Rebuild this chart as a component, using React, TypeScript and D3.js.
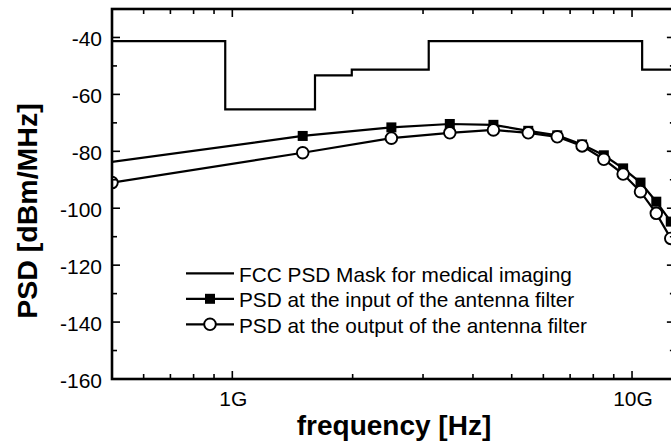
import React from "react";
import * as d3 from "d3";

// FCC indoor UWB mask for medical imaging (GHz breakpoints, dBm/MHz)
const maskFreqs = [0.5, 0.96, 0.96, 1.61, 1.61, 1.99, 1.99, 3.1, 3.1, 10.6, 10.6, 12.8];
const maskVals = [-41.3, -41.3, -65.3, -65.3, -53.3, -53.3, -51.3, -51.3, -41.3, -41.3, -51.3, -51.3];

// PSD at the filter input (filled squares)
const inputFreqs = [0.45, 1.5, 2.5, 3.5, 4.5, 5.5, 6.5, 7.5, 8.5, 9.5, 10.5, 11.5, 12.5];
const inputVals = [-84.6, -74.6, -71.6, -70.4, -70.7, -72.8, -74.4, -77.6, -81.4, -86.0, -91.0, -97.7, -104.7];

// PSD at the filter output (open circles)
const outputFreqs = [0.5, 1.5, 2.5, 3.5, 4.5, 5.5, 6.5, 7.5, 8.5, 9.5, 10.5, 11.5, 12.5];
const outputVals = [-91.0, -80.5, -75.4, -73.5, -72.5, -73.5, -74.9, -78.1, -82.8, -88.0, -94.2, -101.8, -110.6];

const yMajorTicks = [-160, -140, -120, -100, -80, -60, -40];
const yMinorTicks = [-150, -130, -110, -90, -70, -50];
const xMajorTicks = [1, 10];
const xMajorLabels = ["1G", "10G"];
const xMinorTicks = [0.6, 0.7, 0.8, 0.9, 2, 3, 4, 5, 6, 7, 8, 9];

const legendLabels = [
  "FCC PSD Mask for medical imaging",
  "PSD at the input of the antenna filter",
  "PSD at the output of the antenna filter",
];

const W = 671;
const H = 447;
const left = 112;
const top = 9;
const bottom = 379;

const x = d3.scaleLog().domain([0.5, 12.8]).range([left, 232 + 400 * Math.log10(12.8)]);
const y = d3.scaleLinear().domain([-160, -30]).range([bottom, top]);
const right = x.range()[1];

const font = "'Liberation Sans', Arial, Helvetica, sans-serif";

export default function App() {
  const line = d3
    .line<[number, number]>()
    .x((d) => x(d[0]))
    .y((d) => y(d[1]));

  const maskPts = maskFreqs.map((f, i) => [f, maskVals[i]] as [number, number]);
  const inPts = inputFreqs.map((f, i) => [f, inputVals[i]] as [number, number]);
  const outPts = outputFreqs.map((f, i) => [f, outputVals[i]] as [number, number]);

  const major = 8;
  const minor = 5;
  const r = 5.8;

  return (
    <svg
      width={W}
      height={H}
      style={{ position: "absolute", left: 0, top: 0, background: "#fff" }}
      fontFamily={font}
    >
      <defs>
        <clipPath id="plot">
          <rect x={left} y={top} width={right - left} height={bottom - top} />
        </clipPath>
      </defs>

      <g clipPath="url(#plot)">
        <path d={line(maskPts) || ""} fill="none" stroke="#000" strokeWidth={2.2} />
        <path d={line(inPts) || ""} fill="none" stroke="#000" strokeWidth={2.2} />
        {inPts.map((d, i) => (
          <rect key={"s" + i} x={x(d[0]) - 5} y={y(d[1]) - 5} width={10} height={10} fill="#000" />
        ))}
        <path d={line(outPts) || ""} fill="none" stroke="#000" strokeWidth={2.2} />
        {outPts.map((d, i) => (
          <circle key={"c" + i} cx={x(d[0])} cy={y(d[1])} r={r} fill="#fff" stroke="#000" strokeWidth={1.9} />
        ))}
      </g>

      {/* ticks, inward on all four sides */}
      <g stroke="#000" strokeWidth={1.6}>
        {yMajorTicks.map((v) => (
          <g key={"ym" + v}>
            <line x1={left} x2={left + major} y1={y(v)} y2={y(v)} />
            <line x1={right} x2={right - major} y1={y(v)} y2={y(v)} />
          </g>
        ))}
        {yMinorTicks.map((v) => (
          <g key={"yn" + v}>
            <line x1={left} x2={left + minor} y1={y(v)} y2={y(v)} />
            <line x1={right} x2={right - minor} y1={y(v)} y2={y(v)} />
          </g>
        ))}
        {xMajorTicks.map((v) => (
          <g key={"xm" + v}>
            <line x1={x(v)} x2={x(v)} y1={bottom} y2={bottom - major} />
            <line x1={x(v)} x2={x(v)} y1={top} y2={top + major} />
          </g>
        ))}
        {xMinorTicks.map((v) => (
          <g key={"xn" + v}>
            <line x1={x(v)} x2={x(v)} y1={bottom} y2={bottom - minor} />
            <line x1={x(v)} x2={x(v)} y1={top} y2={top + minor} />
          </g>
        ))}
      </g>

      <rect x={left} y={top} width={right - left} height={bottom - top} fill="none" stroke="#000" strokeWidth={2.6} />

      {/* tick labels */}
      {yMajorTicks.map((v) => (
        <text key={"yl" + v} x={102} y={y(v) + 1.5} textAnchor="end" dominantBaseline="central" fontSize={21} fill="#000">
          {v}
        </text>
      ))}
      {xMajorTicks.map((v, i) => (
        <text key={"xl" + v} x={x(v) + 1} y={398.5} textAnchor="middle" dominantBaseline="central" fontSize={21} fill="#000">
          {xMajorLabels[i]}
        </text>
      ))}

      {/* axis titles */}
      <text x={394} y={435} textAnchor="middle" fontSize={28} fontWeight="bold" fill="#000">
        frequency [Hz]
      </text>
      <text transform="translate(37,211) rotate(-90)" textAnchor="middle" fontSize={28.5} fontWeight="bold" fill="#000">
        PSD [dBm/MHz]
      </text>

      {/* legend */}
      {legendLabels.map((t, i) => {
        const cy = 273.3 + i * 25.5;
        return (
          <g key={"lg" + i}>
            <line x1={186} x2={234} y1={cy} y2={cy} stroke="#000" strokeWidth={2.2} />
            {i === 1 && <rect x={205} y={cy - 5} width={10} height={10} fill="#000" />}
            {i === 2 && <circle cx={210} cy={cy} r={r} fill="#fff" stroke="#000" strokeWidth={1.9} />}
            <text x={239} y={cy + 1} dominantBaseline="central" fontSize={20.8} fill="#000">
              {t}
            </text>
          </g>
        );
      })}
    </svg>
  );
}
